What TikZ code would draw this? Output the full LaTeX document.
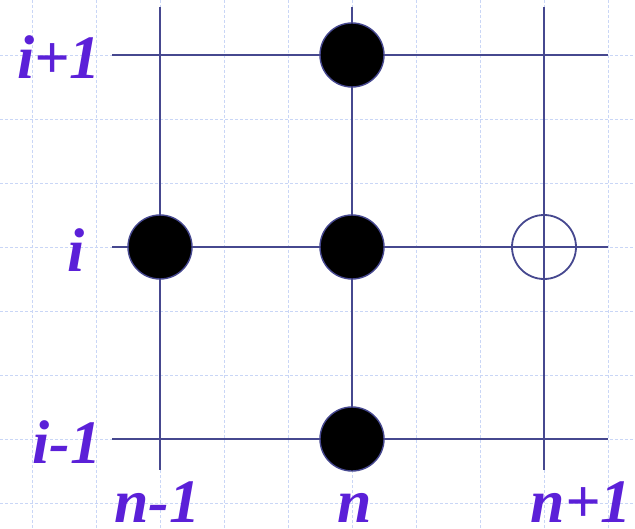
\documentclass[tikz,border=0pt]{standalone}
\usepackage{fontspec}
\setmainfont{Liberation Serif}
\definecolor{gridc}{HTML}{C9D6F6}
\definecolor{linec}{HTML}{46488F}
\definecolor{labc}{HTML}{5B20D8}
\tikzset{
  bggrid/.style={gridc, line width=0.9bp, dash pattern=on 3bp off 2bp},
  mainline/.style={linec, line width=2bp},
  fulldot/.style={circle, fill=black, draw=linec, line width=1.4bp, minimum size=64bp, inner sep=0},
  opendot/.style={circle, draw=linec, line width=1.8bp, minimum size=64bp, inner sep=0},
  lab/.style={labc, anchor=base, inner sep=0, text depth=0pt, font=\fontsize{62}{62}\selectfont\bfseries\itshape}
}
\begin{document}
\begin{tikzpicture}[x=1bp,y=-1bp]
\useasboundingbox (0,0) rectangle (635,529);
% background dashed grid
\foreach \x in {32,96,...,608} \draw[bggrid] (\x,0) -- (\x,529);
\foreach \y in {55,119,...,503} \draw[bggrid] (0,\y) -- (635,\y);
% line end coordinates
\coordinate (h1a) at (112,55);  \coordinate (h1b) at (608,55);
\coordinate (h2a) at (112,247); \coordinate (h2b) at (608,247);
\coordinate (h3a) at (112,439); \coordinate (h3b) at (608,439);
\coordinate (v1a) at (160,7);   \coordinate (v1b) at (160,470);
\coordinate (v2a) at (352,7);   \coordinate (v2b) at (352,470);
\coordinate (v3a) at (544,7);   \coordinate (v3b) at (544,470);
\draw[mainline] (h1a) -- (h1b);
\draw[mainline] (h2a) -- (h2b);
\draw[mainline] (h3a) -- (h3b);
\draw[mainline] (v1a) -- (v1b);
\draw[mainline] (v2a) -- (v2b);
\draw[mainline] (v3a) -- (v3b);
% points
\node[fulldot] (top) at (352,55) {};
\node[fulldot] (left) at (160,247) {};
\node[fulldot] (mid) at (352,247) {};
\node[fulldot] (bot) at (352,439) {};
\node[opendot] (new) at (544,247) {};
% labels
\node[lab] (li1) at (59,79) {i+1};
\node[lab] (li) at (76,271) {i};
\node[lab] (lim1) at (67,463) {i-1};
\node[lab] (ln1) at (157,522) {n-1};
\node[lab] (ln) at (355,522) {n};
\node[lab] (lnp1) at (581,522) {n+1};
\end{tikzpicture}
\end{document}
